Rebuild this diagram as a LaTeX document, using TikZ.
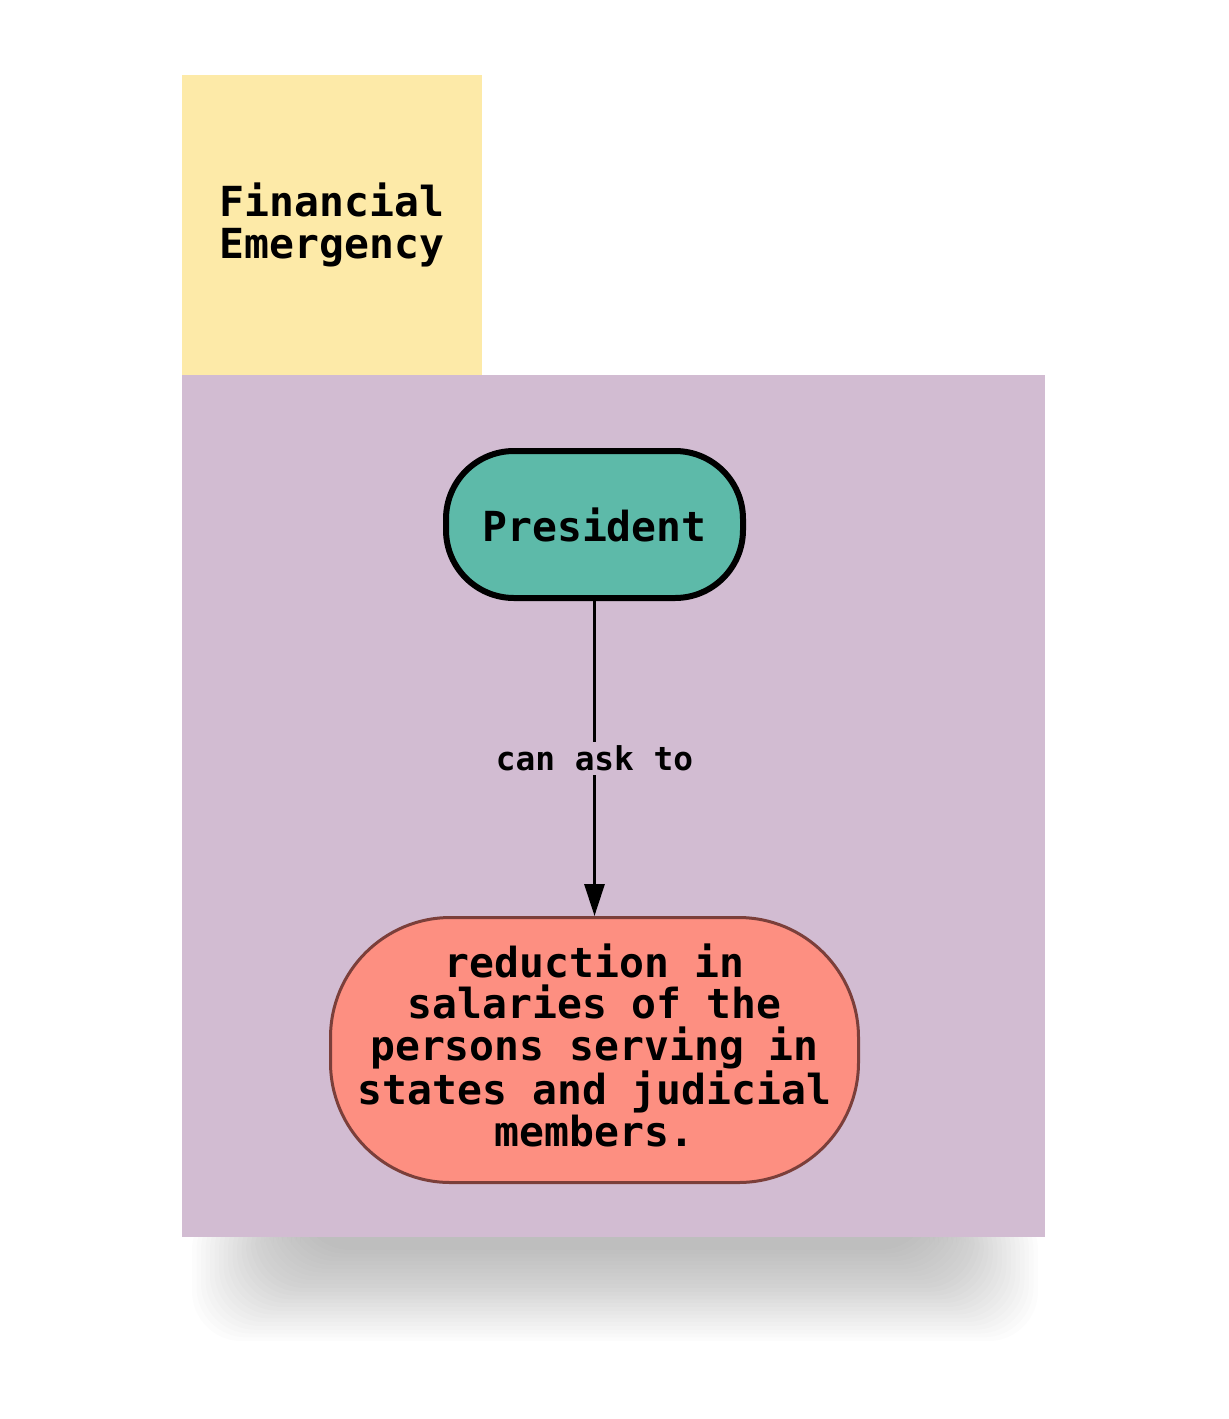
\documentclass[tikz,border=0pt]{standalone}
\usepackage{fontspec}
\usepackage{tikz}
\usetikzlibrary{arrows.meta}
\newfontfamily\diagfont{DejaVu Sans Mono}
\definecolor{titlebg}{HTML}{FDEAA8}
\definecolor{panelbg}{HTML}{D2BCD2}
\definecolor{presfill}{HTML}{5DBAA9}
\definecolor{redfill}{HTML}{FD8F81}
\definecolor{redline}{HTML}{7B3F3A}

\begin{document}
\begin{tikzpicture}[x=0.5pt,y=-0.5pt,>={Triangle[length=16pt,width=10pt]},
  font=\diagfont\bfseries\fontsize{20.7}{20.8}\selectfont,
  title node/.style={rectangle,fill=titlebg,minimum width=150pt,minimum height=150pt,inner sep=0pt,align=center},
  main node/.style={rectangle,rounded corners=34pt,fill=presfill,draw=black,line width=3pt,minimum width=148.5pt,minimum height=73.5pt},
  ref node/.style={rectangle,rounded corners=60pt,fill=redfill,draw=redline,line width=1.5pt,minimum width=264pt,minimum height=132.5pt,align=center,text depth=5pt},
  label node/.style={fill=panelbg,inner sep=2pt,font=\diagfont\bfseries\fontsize{16.4}{18}\selectfont}]
  \useasboundingbox (0,0) rectangle (1228,1419);
  % shadow under the panel
  \foreach \i in {0,...,24}
    \fill[black,opacity=0.01,rounded corners=25pt] (300-4.5*\i,1200) rectangle (930+4.5*\i,1250+3.8*\i);
  \fill[panelbg] (182,375) rectangle (1045,1237);
  \node[title node] (0) at (332,225) {Financial\\Emergency};
  \node[main node] (1) at (594.5,524.5) {President};
  \node[ref node]  (2) at (594.5,1050) {reduction in\\salaries of the\\persons serving in\\states and judicial\\members.};

  \path[->,line width=1.5pt]
    (1) edge node[label node] {can ask to} (2);
\end{tikzpicture}
\end{document}
